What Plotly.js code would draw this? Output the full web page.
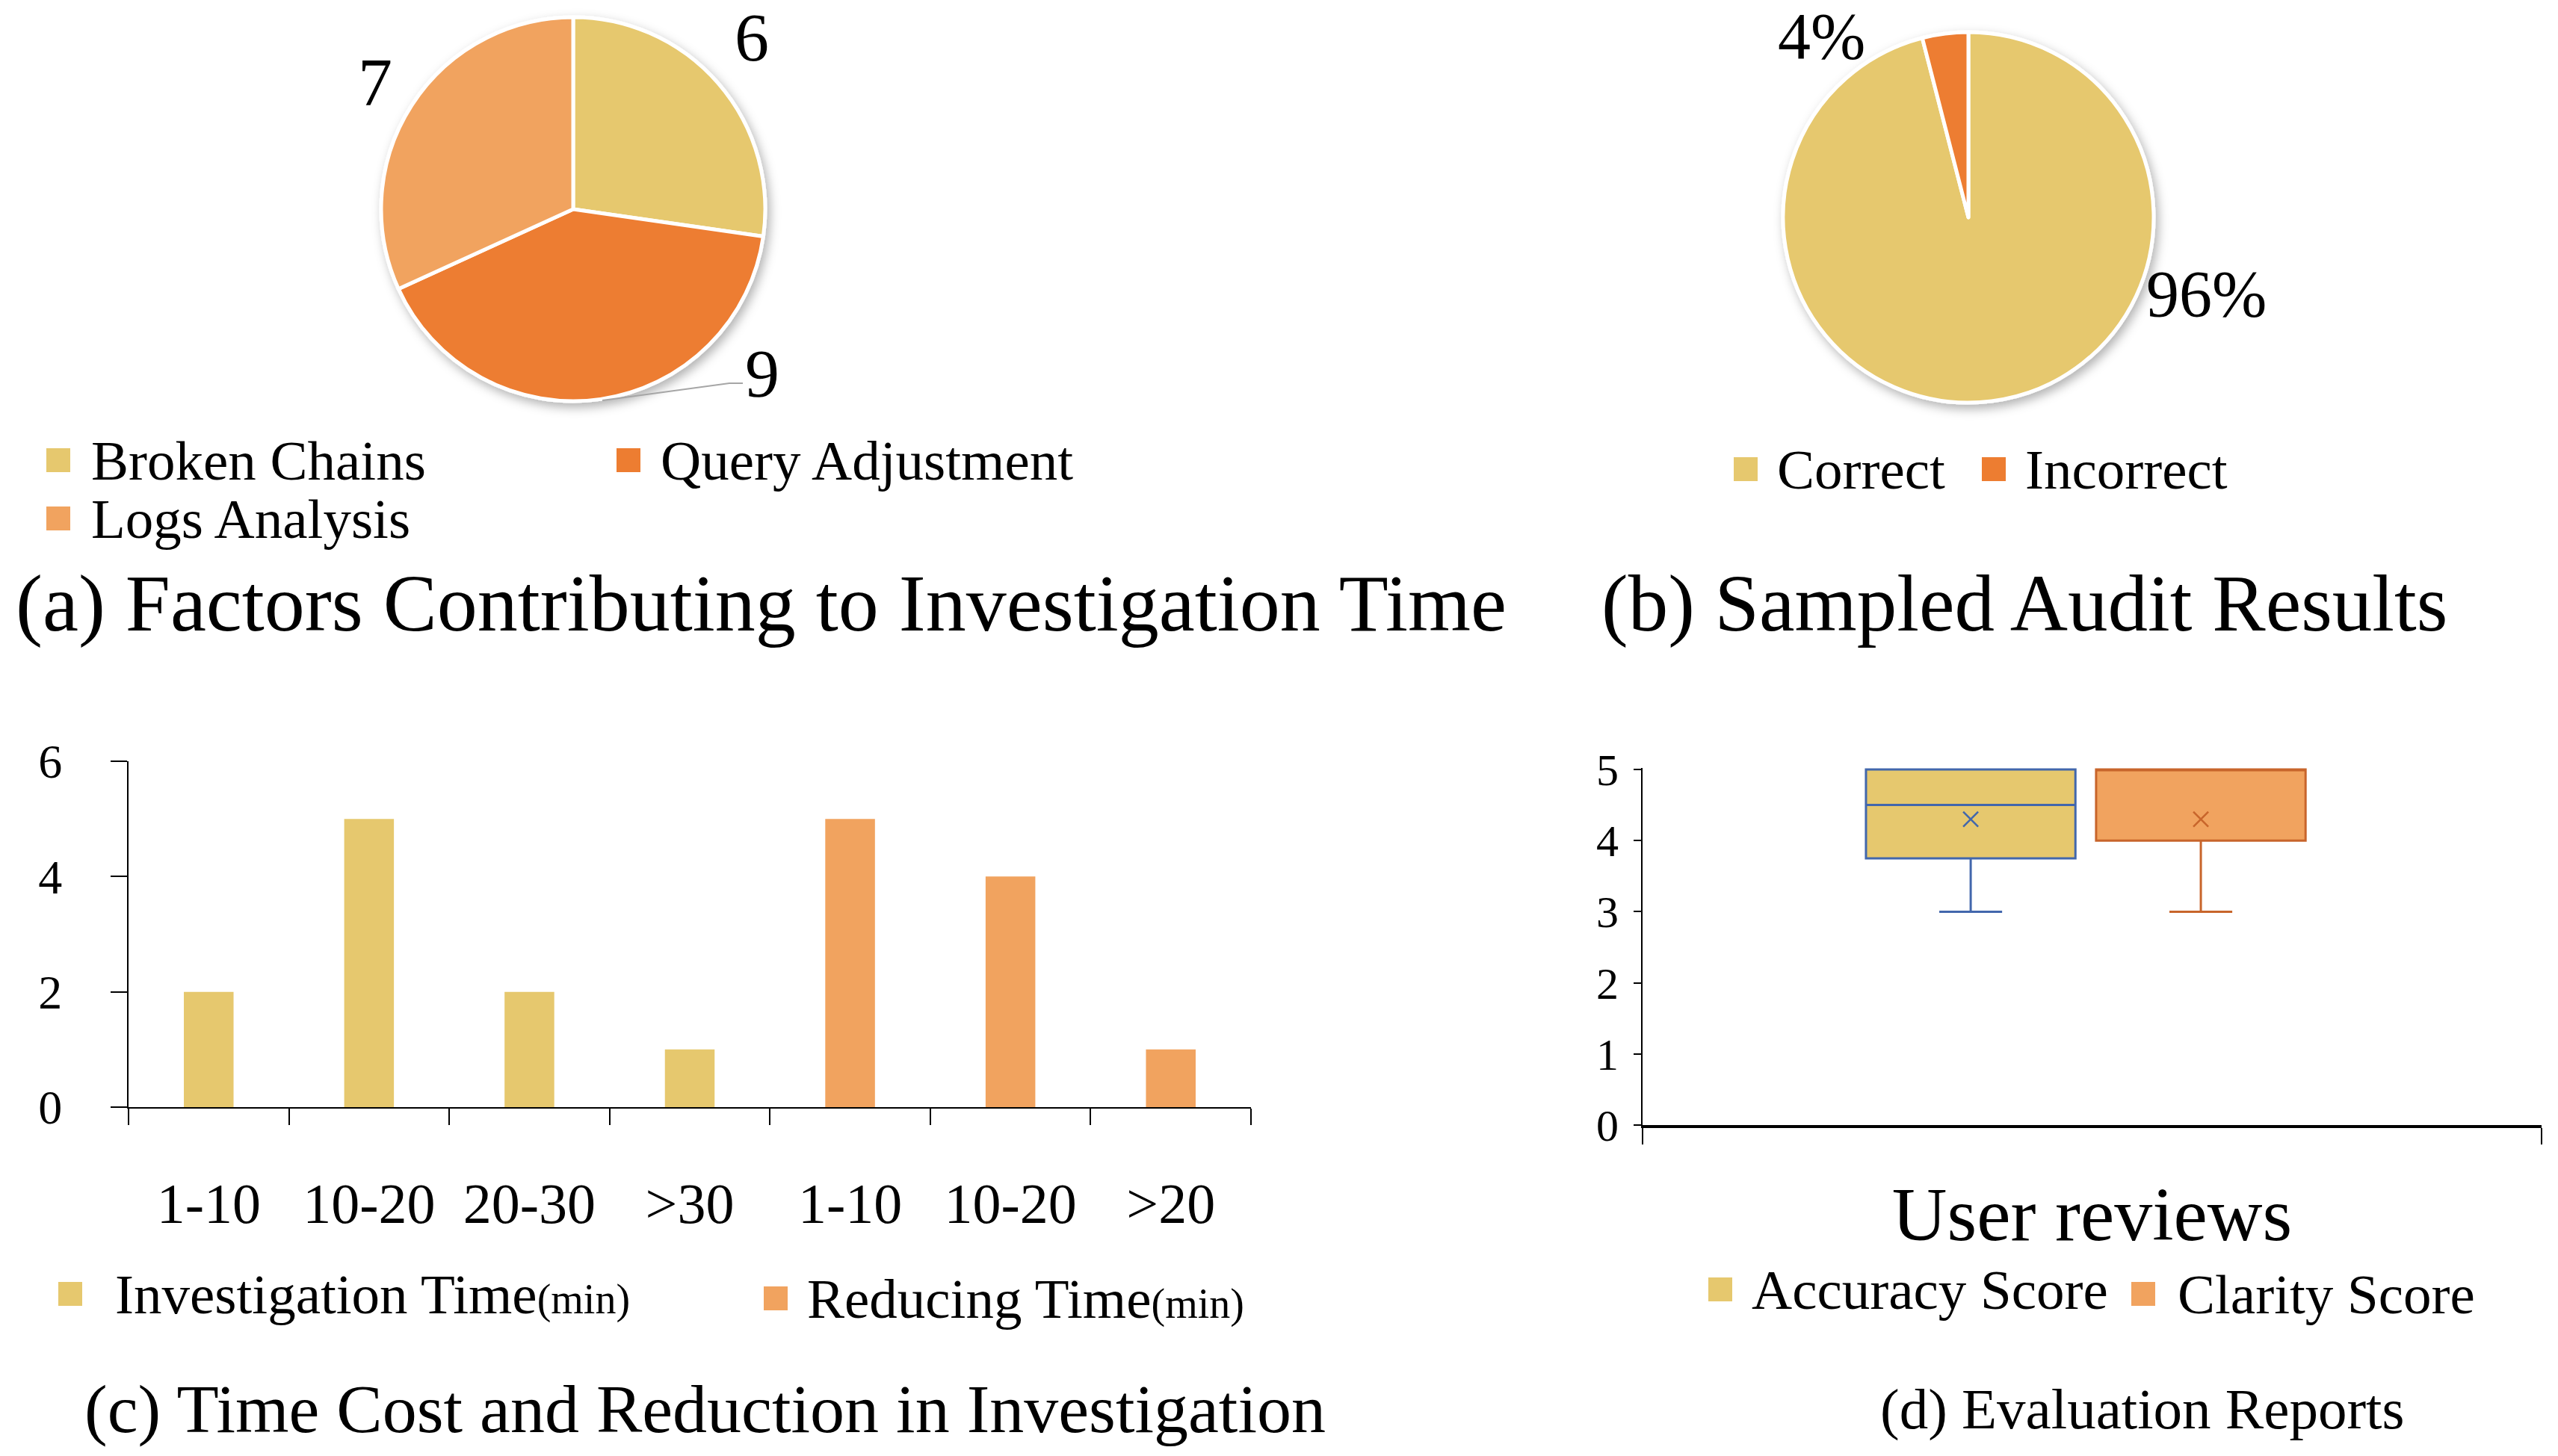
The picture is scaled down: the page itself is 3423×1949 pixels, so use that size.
<!DOCTYPE html>
<html>
<head>
<meta charset="utf-8">
<script src="https://cdn.plot.ly/plotly-3.0.1.min.js"></script>
<style>
  html, body { margin: 0; padding: 0; background: #ffffff; }
  #chart { width: 3423px; height: 1949px; }
</style>
</head>
<body>
<div id="chart"></div>
<script>
// (a) factors behind investigation time
const factorLabels = ['Broken Chains', 'Query Adjustment', 'Logs Analysis'];
const factorCounts = [6, 9, 7];

// (b) sampled audit outcome, percent
const auditLabels = ['Correct', 'Incorrect'];
const auditShares = [96, 4];

// (c) time cost and reduction, number of cases per bin
const investigationBins = ['1-10', '10-20', '20-30', '>30'];
const investigationCounts = [2, 5, 2, 1];
const reducingBins = ['1-10', '10-20', '>20'];
const reducingCounts = [5, 4, 1];
const timeSeriesNames = ['Investigation Time', 'Reducing Time'];
const timeUnit = '(min)';

// (d) user review scores (five-number summary + mean)
const reviewGroup = 'User reviews';
const scoreNames = ['Accuracy Score', 'Clarity Score'];
const scoreMin = [3, 3];
const scoreQ1 = [3.75, 4];
const scoreMedian = [4.5, 5];
const scoreQ3 = [5, 5];
const scoreMax = [5, 5];
const scoreMean = [4.3, 4.3];

// ---------- styling ----------
const W = 3423, H = 1949;
const FONT = 'Liberation Serif, "Times New Roman", serif';
const GOLD = '#E6C86E', ORANGE = '#ED7D31', PEACH = '#F1A35F';
const BLUE = '#4267AC', RUST = '#C8652B';
const px = v => v / W;          // pixel -> paper x
const py = v => 1 - v / H;      // pixel -> paper y

const data = [];
const shapes = [];
const annotations = [];

function text(str, x, y, size, xanchor) {
  annotations.push({
    xref: 'paper', yref: 'paper', x: px(x), y: py(y),
    xanchor: xanchor || 'center', yanchor: 'middle',
    text: str, showarrow: false,
    font: { family: FONT, size: size, color: '#000' }
  });
}
function legendKey(cx, cy, color, label, textX, size) {
  const h = 16;
  shapes.push({
    type: 'rect', xref: 'paper', yref: 'paper',
    x0: px(cx - h), x1: px(cx + h), y0: py(cy + h), y1: py(cy - h),
    fillcolor: color, line: { width: 0 }
  });
  text(label, textX, cy, size, 'left');
}

// ---------- (a) pie ----------
const pieA = { cx: 767, cy: 280, r: 257 };
data.push({
  type: 'pie', labels: factorLabels, values: factorCounts,
  sort: false, direction: 'clockwise', rotation: 0,
  marker: { colors: [GOLD, ORANGE, PEACH], line: { color: '#ffffff', width: 5 } },
  textinfo: 'none', hoverinfo: 'label+value', showlegend: false,
  domain: { x: [px(pieA.cx - pieA.r), px(pieA.cx + pieA.r)],
            y: [py(pieA.cy + pieA.r), py(pieA.cy - pieA.r)] }
});
const pieALabelPos = [[1006, 50], [1020, 500], [502, 110]];
factorCounts.forEach((v, i) => text(String(v), pieALabelPos[i][0], pieALabelPos[i][1], 92));
// leader line to the large slice label
shapes.push({
  type: 'path', xref: 'paper', yref: 'paper',
  path: `M ${px(994)} ${py(513)} L ${px(976)} ${py(513)} L ${px(806)} ${py(536)}`,
  line: { color: '#A6A6A6', width: 2 }
});
const legendAPos = [[78, 616, 120], [841, 616, 882], [78, 694, 120]];
factorLabels.forEach((lab, i) =>
  legendKey(legendAPos[i][0], legendAPos[i][1], [GOLD, ORANGE, PEACH][i], lab, legendAPos[i][2], 75));
text('(a) Factors Contributing to Investigation Time', 1018, 808, 108);

// ---------- (b) pie ----------
const pieB = { cx: 2634, cy: 291, r: 248 };
data.push({
  type: 'pie', labels: auditLabels, values: auditShares,
  sort: false, direction: 'clockwise', rotation: 0,
  marker: { colors: [GOLD, ORANGE], line: { color: '#ffffff', width: 5 } },
  textinfo: 'none', hoverinfo: 'label+percent', showlegend: false,
  domain: { x: [px(pieB.cx - pieB.r), px(pieB.cx + pieB.r)],
            y: [py(pieB.cy + pieB.r), py(pieB.cy - pieB.r)] }
});
const pieBLabelPos = [[2952, 393], [2437, 48]];
auditShares.forEach((v, i) => text(v + '%', pieBLabelPos[i][0], pieBLabelPos[i][1], 88));
const legendBPos = [[2336, 628, 2376], [2668, 628, 2708]];
auditLabels.forEach((lab, i) =>
  legendKey(legendBPos[i][0], legendBPos[i][1], [GOLD, ORANGE][i], lab, legendBPos[i][2], 75));
text('(b) Sampled Audit Results', 2709, 808, 107);

// ---------- (c) bars ----------
const binLabels = investigationBins.concat(reducingBins);
const binPos = binLabels.map((_, i) => i);
const binEdges = binLabels.map((_, i) => i - 0.5).concat([binLabels.length - 0.5]);
data.push({
  type: 'bar', name: timeSeriesNames[0],
  x: investigationBins.map((_, i) => i), y: investigationCounts,
  marker: { color: GOLD }, xaxis: 'x', yaxis: 'y', showlegend: false
});
data.push({
  type: 'bar', name: timeSeriesNames[1],
  x: reducingBins.map((_, i) => investigationBins.length + i), y: reducingCounts,
  marker: { color: PEACH }, xaxis: 'x', yaxis: 'y', showlegend: false
});
const unitSpan = `<span style="font-size:56px">${timeUnit}</span>`;
legendKey(94, 1732, GOLD, timeSeriesNames[0] + unitSpan, 152, 75);
legendKey(1038, 1738, PEACH, timeSeriesNames[1] + unitSpan, 1078, 75);
text('(c) Time Cost and Reduction in Investigation', 944, 1886, 92);

// ---------- (d) box plot ----------
const boxPos = [-0.135, 0.121];
const boxWidth = 0.233;
const boxFill = [GOLD, PEACH], boxLine = [BLUE, RUST];
scoreNames.forEach((nm, i) => {
  data.push({
    type: 'box', name: nm, x: [boxPos[i]],
    q1: [scoreQ1[i]], median: [scoreMedian[i]], q3: [scoreQ3[i]],
    lowerfence: [scoreMin[i]], upperfence: [scoreMax[i]],
    boxmean: false,
    width: boxWidth, whiskerwidth: 0.3, boxpoints: false,
    fillcolor: boxFill[i], line: { color: boxLine[i], width: 3 },
    xaxis: 'x2', yaxis: 'y2', showlegend: false
  });
  data.push({
    type: 'scatter', mode: 'markers', name: nm + ' mean',
    x: [boxPos[i]], y: [scoreMean[i]],
    marker: { symbol: 'x-thin', size: 20, color: boxLine[i], line: { width: 2.5, color: boxLine[i] } },
    xaxis: 'x2', yaxis: 'y2', showlegend: false
  });
});
legendKey(2302, 1726, GOLD, scoreNames[0], 2342, 75);
legendKey(2868, 1732, PEACH, scoreNames[1], 2912, 75);
text('(d) Evaluation Reports', 2866, 1886, 77);

const yTop5 = 5.02;
const layout = {
  width: W, height: H,
  margin: { l: 0, r: 0, t: 0, b: 0, pad: 0 },
  paper_bgcolor: '#ffffff', plot_bgcolor: 'rgba(0,0,0,0)',
  font: { family: FONT, color: '#000000' },
  showlegend: false,
  barmode: 'overlay', bargap: 0.69,
  xaxis: {
    domain: [px(172), px(1674)], anchor: 'y',
    range: [-0.5, binLabels.length - 0.5],
    tickmode: 'array', tickvals: binPos, ticktext: binLabels,
    ticks: '', showgrid: false, zeroline: false,
    showline: true, linecolor: '#000', linewidth: 2,
    tickfont: { family: FONT, size: 76, color: '#000' },
    ticklabelstandoff: 62,
    minor: { tickmode: 'array', tickvals: binEdges, ticks: 'outside',
             ticklen: 22, tickwidth: 2, tickcolor: '#000', showgrid: false },
    fixedrange: true
  },
  yaxis: {
    domain: [py(1482), py(1019)], anchor: 'x',
    range: [0, 6], tickmode: 'linear', tick0: 0, dtick: 2,
    ticks: 'outside', ticklen: 22, tickwidth: 2, tickcolor: '#000',
    showline: true, linecolor: '#000', linewidth: 2,
    showgrid: false, zeroline: false,
    tickfont: { family: FONT, size: 64, color: '#000' },
    ticklabelstandoff: 52,
    fixedrange: true
  },
  xaxis2: {
    domain: [px(2198), px(3401)], anchor: 'y2',
    range: [-0.5, 0.5], tickmode: 'array', tickvals: [-0.5, 0.5], ticktext: ['', ''],
    ticks: 'outside', ticklen: 22, tickwidth: 2, tickcolor: '#000',
    showline: true, linecolor: '#000', linewidth: 4,
    showgrid: false, zeroline: false,
    title: { text: reviewGroup, font: { family: FONT, size: 102, color: '#000' }, standoff: 56 },
    fixedrange: true
  },
  yaxis2: {
    domain: [py(1506), py(1506 - yTop5 * 95.2)], anchor: 'x2',
    range: [0, yTop5], tickmode: 'linear', tick0: 0, dtick: 1,
    ticks: 'outside', ticklen: 10, tickwidth: 2, tickcolor: '#000',
    showline: true, linecolor: '#000', linewidth: 2,
    showgrid: false, zeroline: false,
    tickfont: { family: FONT, size: 60, color: '#000' },
    ticklabelstandoff: 8,
    fixedrange: true
  },
  shapes: shapes,
  annotations: annotations
};

Plotly.newPlot('chart', data, layout, { staticPlot: true, displayModeBar: false }).then(gd => {
  // soft drop shadow under both pies
  const NS = 'http://www.w3.org/2000/svg';
  const svg = gd.querySelector('svg.main-svg');
  let defs = svg.querySelector('defs');
  if (!defs) { defs = document.createElementNS(NS, 'defs'); svg.insertBefore(defs, svg.firstChild); }
  const f = document.createElementNS(NS, 'filter');
  f.setAttribute('id', 'pieShade');
  f.setAttribute('x', '-20%'); f.setAttribute('y', '-20%');
  f.setAttribute('width', '140%'); f.setAttribute('height', '140%');
  const ds = document.createElementNS(NS, 'feDropShadow');
  ds.setAttribute('dx', '4'); ds.setAttribute('dy', '6');
  ds.setAttribute('stdDeviation', '7');
  ds.setAttribute('flood-color', '#000'); ds.setAttribute('flood-opacity', '0.3');
  f.appendChild(ds);
  defs.appendChild(f);
  gd.querySelectorAll('.pielayer .trace').forEach(g => g.setAttribute('filter', 'url(#pieShade)'));
});
</script>
</body>
</html>
